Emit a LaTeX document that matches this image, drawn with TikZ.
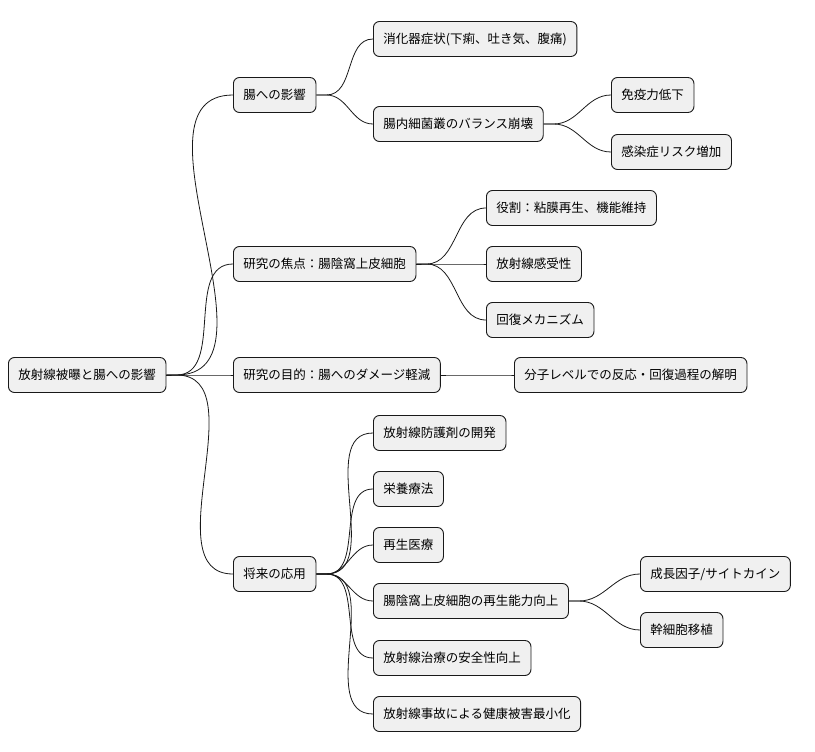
\documentclass[tikz,border=0pt]{standalone}
\usepackage{fontspec}
\setmainfont{Noto Sans CJK JP}
\begin{document}
\begin{tikzpicture}[x=1pt,y=-1pt,
  n/.style={draw=black!90,fill=black!6,line width=0.9pt,rounded corners=6pt,anchor=west,minimum height=35pt,inner xsep=10pt,font=\fontsize{12.5}{14}\selectfont},
  c/.style={line width=0.8pt,draw=black!90}]
\useasboundingbox (0,0) rectangle (815,752);
\node[n] (r) at (8,375) {放射線被曝と腸への影響};
\node[n] (a) at (233,95) {腸への影響};
\node[n] (b) at (233,264) {研究の焦点：腸陰窩上皮細胞};
\node[n] (c) at (233,375) {研究の目的：腸へのダメージ軽減};
\node[n] (d) at (233,574) {将来の応用};
\node[n] (a1) at (373,39) {消化器症状(下痢、吐き気、腹痛)};
\node[n] (a2) at (373,124) {腸内細菌叢のバランス崩壊};
\node[n] (a21) at (611,95) {免疫力低下};
\node[n] (a22) at (611,152) {感染症リスク増加};
\node[n] (b1) at (486,208) {役割：粘膜再生、機能維持};
\node[n] (b2) at (486,264) {放射線感受性};
\node[n] (b3) at (486,320) {回復メカニズム};
\node[n] (c1) at (514,375) {分子レベルでの反応・回復過程の解明};
\node[n] (d1) at (373,433) {放射線防護剤の開発};
\node[n] (d2) at (373,489) {栄養療法};
\node[n] (d3) at (373,545) {再生医療};
\node[n] (d4) at (373,601) {腸陰窩上皮細胞の再生能力向上};
\node[n] (d41) at (640,574) {成長因子/サイトカイン};
\node[n] (d42) at (640,630) {幹細胞移植};
\node[n] (d5) at (373,658) {放射線治療の安全性向上};
\node[n] (d6) at (373,714) {放射線事故による健康被害最小化};
\foreach \p/\q in {r/a,r/b,r/c,r/d,a/a1,a/a2,a2/a21,a2/a22,b/b1,b/b2,b/b3,c/c1,d/d1,d/d2,d/d3,d/d4,d/d5,d/d6,d4/d41,d4/d42}
  \draw[c] (\p.east) -- ++(10,0) to[out=0,in=180] (\q.west);
\end{tikzpicture}
\end{document}
